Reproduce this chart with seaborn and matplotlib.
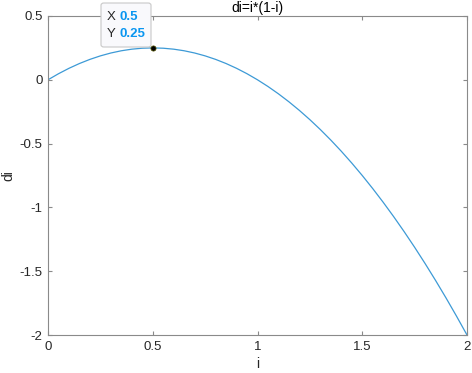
import matplotlib
matplotlib.use("Agg")
import matplotlib.pyplot as plt
import seaborn as sns
import pandas as pd
from matplotlib.patches import FancyBboxPatch

i_vals = [0.0, 0.05, 0.1, 0.15, 0.2, 0.25, 0.3, 0.35, 0.4, 0.45, 0.5,
          0.55, 0.6, 0.65, 0.7, 0.75, 0.8, 0.85, 0.9, 0.95, 1.0,
          1.05, 1.1, 1.15, 1.2, 1.25, 1.3, 1.35, 1.4, 1.45, 1.5,
          1.55, 1.6, 1.65, 1.7, 1.75, 1.8, 1.85, 1.9, 1.95, 2.0]
di_vals = [0.0, 0.0475, 0.09, 0.1275, 0.16, 0.1875, 0.21, 0.2275, 0.24, 0.2475, 0.25,
           0.2475, 0.24, 0.2275, 0.21, 0.1875, 0.16, 0.1275, 0.09, 0.0475, 0.0,
           -0.0525, -0.11, -0.1725, -0.24, -0.3125, -0.39, -0.4725, -0.56, -0.6525, -0.75,
           -0.8525, -0.96, -1.0725, -1.19, -1.3125, -1.44, -1.5725, -1.71, -1.8525, -2.0]
tip_x = [0.5]
tip_y = [0.25]
x_ticks = [0, 0.5, 1, 1.5, 2]
x_labels = ["0", "0.5", "1", "1.5", "2"]
y_ticks = [-2, -1.5, -1, -0.5, 0, 0.5]
y_labels = ["-2", "-1.5", "-1", "-0.5", "0", "0.5"]

sns.set_style("white")
plt.rcParams['font.family'] = ['Liberation Sans', 'DejaVu Sans']

W, H = 472, 373
fig = plt.figure(figsize=(W / 100, H / 100), dpi=100)
ax = fig.add_axes([48 / W, 1 - 335 / H, (467 - 48) / W, (335 - 16) / H])

df = pd.DataFrame({"i": i_vals, "di": di_vals})
sns.lineplot(data=df, x="i", y="di", ax=ax, color="#3d9ad6", linewidth=0.9)
sns.scatterplot(x=tip_x, y=tip_y, ax=ax, color="black", s=14, edgecolor="#555500", linewidth=0.5, zorder=5)

ax.set_xlim(0, 2)
ax.set_ylim(-2, 0.5)
ax.set_xticks(x_ticks)
ax.set_xticklabels(x_labels)
ax.set_yticks(y_ticks)
ax.set_yticklabels(y_labels)
for s in ax.spines.values():
    s.set_color("#8a8a8a")
    s.set_linewidth(0.8)
    s.set_visible(True)
ax.tick_params(direction="in", length=3, width=0.8, color="#8a8a8a",
               labelsize=9.5, labelcolor="#262626", top=True, right=True,
               bottom=True, left=True, pad=4)
ax.set_xlabel("i", fontsize=10, color="#262626", labelpad=3)
ax.set_ylabel("di", fontsize=10, color="#262626")
ax.yaxis.set_label_coords(-0.079, 0.5)
ax.set_title("di=i*(1-i)", fontsize=10, color="black", pad=3)

# datatip box
bx0, by0, bx1, by1 = 101, 3, 151, 47
box = FancyBboxPatch((bx0 / W, 1 - by1 / H), (bx1 - bx0) / W, (by1 - by0) / H,
                     boxstyle="round,pad=0,rounding_size=0.006",
                     transform=fig.transFigure, facecolor="#f9f9fc",
                     edgecolor="#c8c8c8", linewidth=0.8, zorder=10)
fig.patches.append(box)
fig.text(107 / W, 1 - 17 / H, "X", fontsize=9.5, color="#262626", va="center", zorder=11)
fig.text(120 / W, 1 - 17 / H, "0.5", fontsize=9.5, color="#0a96f0", fontweight="bold", va="center", zorder=11)
fig.text(107 / W, 1 - 34 / H, "Y", fontsize=9.5, color="#262626", va="center", zorder=11)
fig.text(120 / W, 1 - 34 / H, "0.25", fontsize=9.5, color="#0a96f0", fontweight="bold", va="center", zorder=11)

fig.savefig("out.png", dpi=100)
